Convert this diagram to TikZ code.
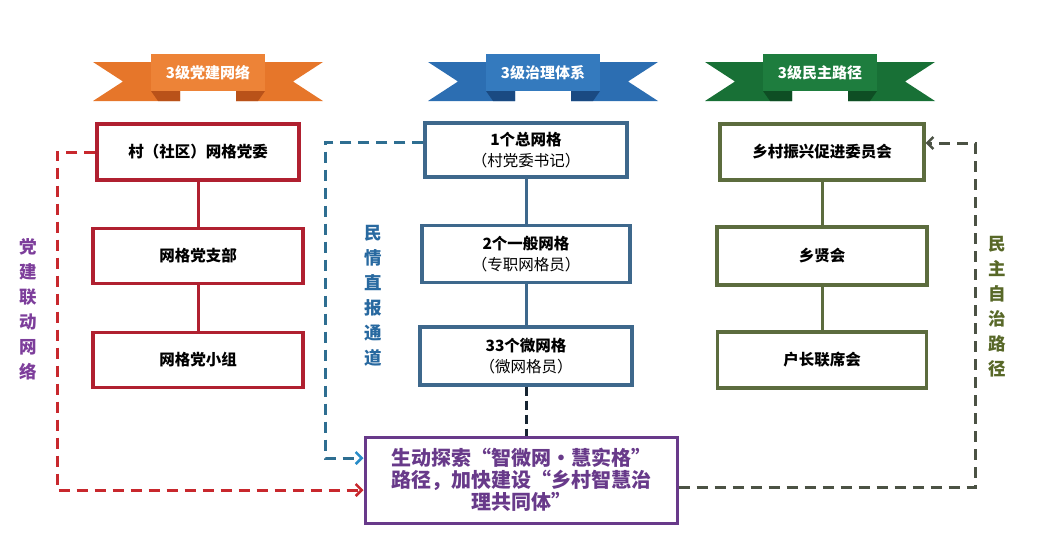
\documentclass[tikz,border=0pt]{standalone}
\usepackage{fontspec}
\setmainfont{Noto Sans CJK SC}
\usepackage{xcolor}
\usepackage{tikz}
\usetikzlibrary{arrows.meta, positioning, calc}

\definecolor{partyred}{RGB}{176,32,48}
\definecolor{redtrail}{RGB}{200,40,45}
\definecolor{govblue}{RGB}{62,104,140}
\definecolor{bluetrail}{RGB}{46,110,145}
\definecolor{arrowblue}{RGB}{40,140,200}
\definecolor{demogreen}{RGB}{92,108,62}
\definecolor{greentrail}{RGB}{75,82,68}
\definecolor{goalpurple}{RGB}{104,58,138}
\definecolor{labelpurple}{RGB}{125,62,155}
\definecolor{labelblue}{RGB}{40,105,160}
\definecolor{labelgreen}{RGB}{88,104,40}
\definecolor{bandorange}{RGB}{237,131,55}
\definecolor{tailorange}{RGB}{230,118,42}
\definecolor{foldorange}{RGB}{185,82,25}
\definecolor{bandblue}{RGB}{52,122,190}
\definecolor{tailblue}{RGB}{44,110,178}
\definecolor{foldblue}{RGB}{26,74,130}
\definecolor{bandgreen}{RGB}{30,125,62}
\definecolor{tailgreen}{RGB}{24,112,54}
\definecolor{foldgreen}{RGB}{14,78,36}

\begin{document}
\begin{tikzpicture}[x=1pt, y=-1pt,
  box/.style={draw, line width=3.2pt, fill=white, inner sep=2pt,
              align=center, font=\fontsize{15.5}{21}\selectfont},
  redbox/.style={box, draw=partyred},
  bluebox/.style={box, draw=govblue},
  greenbox/.style={box, draw=demogreen},
  goalbox/.style={draw=goalpurple, line width=3pt, fill=white,
                  minimum width=312, minimum height=86, align=center,
                  text=goalpurple, font=\fontsize{20}{22}\selectfont\bfseries},
  link/.style={line width=3pt},
  trail/.style={line width=3pt, dash pattern=on 11pt off 7pt},
  tip/.style={-{Straight Barb[length=6pt, width=12pt, line width=2.5pt]}},
  ribbonband/.style={minimum width=114, minimum height=37, inner sep=0pt,
                     text=white, font=\fontsize{15}{18}\selectfont\bfseries},
  sidelabel/.style={align=center, font=\fontsize{17.5}{25}\selectfont\bfseries}
]
\useasboundingbox (0,0) rectangle (1037,533);

% ribbons
\foreach \cx/\tone/\txt in {208/orange/3级党建网络, 543/blue/3级治理体系, 820/green/3级民主路径} {
  \fill[fill=tail\tone] (\cx-115,62) -- (\cx-28,62) -- (\cx-28,101) -- (\cx-115,101) -- (\cx-85,81.5) -- cycle;
  \fill[fill=tail\tone] (\cx+115,62) -- (\cx+28,62) -- (\cx+28,101) -- (\cx+115,101) -- (\cx+85,81.5) -- cycle;
  \fill[fill=fold\tone] (\cx-57,91) -- (\cx-28,91) -- (\cx-28,101) -- (\cx-50,101) -- cycle;
  \fill[fill=fold\tone] (\cx+57,91) -- (\cx+28,91) -- (\cx+28,101) -- (\cx+50,101) -- cycle;
  \node[ribbonband, fill=band\tone] (rib\tone) at (\cx,72.5) {\txt};
}

% party column
\node[redbox, minimum width=202, minimum height=56] (r1) at (198,152) {\bfseries 村（社区）网格党委};
\node[redbox, minimum width=210, minimum height=55] (r2) at (198,256) {\bfseries 网格党支部};
\node[redbox, minimum width=210, minimum height=55] (r3) at (198,360) {\bfseries 网格党小组};

% governance column
\node[bluebox, minimum width=202, minimum height=54] (b1) at (526,150) {\textbf{1个总网格}\\（村党委书记）};
\node[bluebox, minimum width=208, minimum height=57] (b2) at (526,254) {\textbf{2个一般网格}\\（专职网格员）};
\node[bluebox, minimum width=212, minimum height=58] (b3) at (526,356) {\textbf{33个微网格}\\（微网格员）};

% democracy column
\node[greenbox, minimum width=204, minimum height=56] (g1) at (822,152) {\bfseries 乡村振兴促进委员会};
\node[greenbox, minimum width=210, minimum height=58] (g2) at (822,256) {\bfseries 乡贤会};
\node[greenbox, minimum width=209, minimum height=56] (g3) at (822,360) {\bfseries 户长联席会};

\node[goalbox] (goal) at (521,480) {生动探索“智微网·慧实格”\\路径，加快建设“乡村智慧治\\理共同体”};

\draw[link, partyred] (r1) -- (r2);
\draw[link, partyred] (r2) -- (r3);
\draw[link, govblue] (b1) -- (b2);
\draw[link, govblue] (b2) -- (b3);
\draw[link, demogreen] (g1) -- (g2);
\draw[link, demogreen] (g2) -- (g3);
\draw[trail, dash pattern=on 9pt off 5pt, black!65!govblue] (b3.south) -- (b3.south |- goal.north);

% side channels
\coordinate (redcol) at (57,0);
\coordinate (bluecol) at (325,0);
\coordinate (greencol) at (975,0);
\draw[trail, redtrail, tip] (r1.west) -- (r1.west -| redcol) |- ([yshift=-10pt]goal.west);
\draw[trail, bluetrail, -{Straight Barb[length=6pt, width=12pt, line width=2.5pt, color=arrowblue]}]
  ([yshift=8pt]b1.west) -- ([yshift=8pt]b1.west -| bluecol) |- ([yshift=22pt]goal.west);
\draw[trail, greentrail, tip] ([yshift=-7pt]goal.east) -- ([yshift=-7pt]goal.east -| greencol) |- ([yshift=9pt]g1.east);

\node[sidelabel, text=labelpurple] (lblparty) at (28,309) {党\\建\\联\\动\\网\\络};
\node[sidelabel, text=labelblue] (lblgov) at (373,296) {民\\情\\直\\报\\通\\道};
\node[sidelabel, text=labelgreen] (lbldemo) at (997,307) {民\\主\\自\\治\\路\\径};

\end{tikzpicture}
\end{document}
